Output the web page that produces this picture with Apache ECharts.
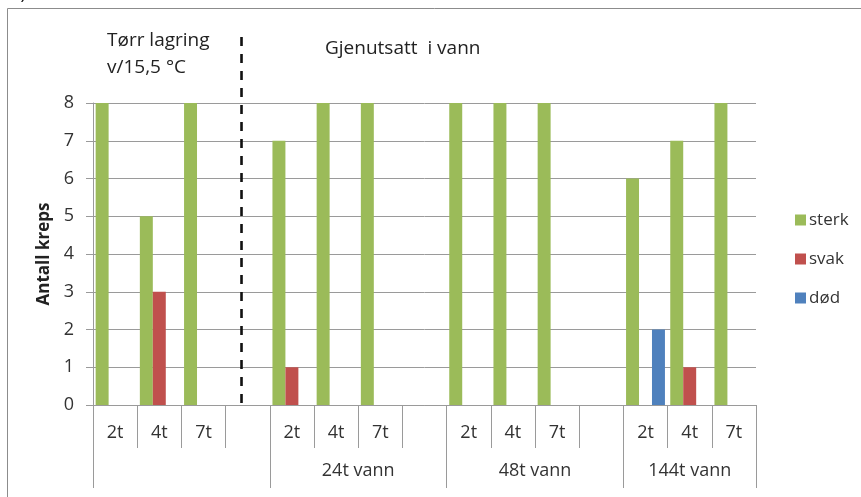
<!DOCTYPE html>
<html>
<head>
<meta charset="utf-8">
<script src="https://cdn.jsdelivr.net/npm/echarts@6/dist/echarts.min.js"></script>
<style>
html,body{margin:0;padding:0;background:#fff;}
#c{width:861px;height:497px;}
</style>
</head>
<body>
<div id="c"></div>
<script>
// ---- data ----
const catLabels = ['2t','4t','7t','','2t','4t','7t','','2t','4t','7t','','2t','4t','7t'];
const groupLabels = ['24t vann','48t vann','144t vann'];
const groupCenters = [6, 10, 13.5];      // in category-slot units
const groupBounds = [0, 4, 8, 12, 15];   // slot boundaries of the groups
const sterk = [8,5,8,null,7,8,8,null,8,8,8,null,6,7,8];
const svak  = [0,3,0,null,1,0,0,null,0,0,0,null,0,1,0];
const dod   = [0,0,0,null,0,0,0,null,0,0,0,null,2,0,0];
const yTicks = [0,1,2,3,4,5,6,7,8];

const FONT = '"Open Sans", "Noto Sans", sans-serif';
const GRAY = '#9a9a9a';
const TXT = '#333333';

const chart = echarts.init(document.getElementById('c'), null, {renderer:'canvas'});
const slotIdx = catLabels.map((_, i) => String(i));

chart.setOption({
  animation: false,
  textStyle: {fontFamily: FONT},
  grid: {left: 93, right: 105, top: 103, bottom: 92, containLabel: false},
  legend: {
    orient: 'vertical', left: 790, top: 206,
    itemWidth: 11, itemHeight: 11, itemGap: 21, icon: 'rect',
    textStyle: {fontFamily: FONT, fontSize: 17, color: TXT, lineHeight: 18, padding: [0,0,0,-2]},
    data: ['sterk','svak','død']
  },
  xAxis: [{
    type: 'category', data: slotIdx, position: 'bottom',
    axisLine: {show: true, lineStyle: {color: GRAY}},
    axisTick: {show: true, interval: 0, length: 43, lineStyle: {color: GRAY}},
    axisLabel: {interval: 0, margin: 19, fontSize: 18, color: TXT, fontFamily: FONT,
      formatter: v => catLabels[+v]},
    splitLine: {show: false}
  },{
    type: 'value', min: 0, max: 15, position: 'bottom', gridIndex: 0,
    axisLine: {show: false},
    axisTick: {show: true, length: 83, customValues: groupBounds, lineStyle: {color: GRAY}},
    axisLabel: {show: true, margin: 57, fontSize: 18, color: TXT, fontFamily: FONT,
      customValues: groupCenters,
      formatter: v => { const i = groupCenters.indexOf(v); return i >= 0 ? groupLabels[i] : ''; }},
    splitLine: {show: false}
  }],
  yAxis: {
    type: 'value', min: 0, max: 8, interval: 1,
    name: 'Antall kreps', nameLocation: 'middle', nameGap: 40,
    nameTextStyle: {fontFamily: FONT, fontSize: 17, fontWeight: 'bold', color: '#222'},
    axisLine: {show: true, lineStyle: {color: GRAY}},
    axisTick: {show: true, length: 7, lineStyle: {color: GRAY}},
    axisLabel: {margin: 19, fontSize: 18, color: TXT, fontFamily: FONT,
      formatter: v => yTicks.includes(v) ? String(v) : ''},
    splitLine: {show: true, lineStyle: {color: GRAY, width: 1}}
  },
  series: [
    {name: 'sterk', type: 'bar', data: sterk, itemStyle: {color: '#9BBB59'}, barGap: '0%', barCategoryGap: '12%'},
    {name: 'svak', type: 'bar', data: svak, itemStyle: {color: '#C0504D'}, barGap: '0%', barCategoryGap: '12%'},
    {name: 'død', type: 'bar', data: dod, itemStyle: {color: '#4F81BD'}, barGap: '0%', barCategoryGap: '12%'}
  ]
});

// decorations
const dashX = chart.convertToPixel({xAxisIndex: 1}, 3.36);
const yBottom = chart.convertToPixel({yAxisIndex: 0}, 0);
chart.setOption({
  graphic: [
    {type: 'rect', shape: {x: 7.5, y: 8.5, width: 900, height: 600}, style: {fill: 'none', stroke: '#8c8c8c', lineWidth: 1}, silent: true, z: -1},
    {type: 'line', shape: {x1: dashX, y1: 37, x2: dashX, y2: yBottom}, style: {stroke: '#111', lineWidth: 2.6, lineDash: [9, 8]}, z: 10},
    {type: 'text', x: 107, y: 41, style: {text: 'Tørr lagring', font: '19px ' + FONT, fill: '#222', verticalAlign: 'middle'}},
    {type: 'text', x: 107, y: 68, style: {text: 'v/15,5 °C', font: '19px ' + FONT, fill: '#222', verticalAlign: 'middle'}},
    {type: 'text', x: 325, y: 49, style: {text: 'Gjenutsatt  i vann', font: '19px ' + FONT, fill: '#222', verticalAlign: 'middle'}},
    {type: 'text', x: 12, y: 3, style: {text: 'c)', font: '18px ' + FONT, fill: '#111', verticalAlign: 'bottom'}}
  ]
});
</script>
</body>
</html>
